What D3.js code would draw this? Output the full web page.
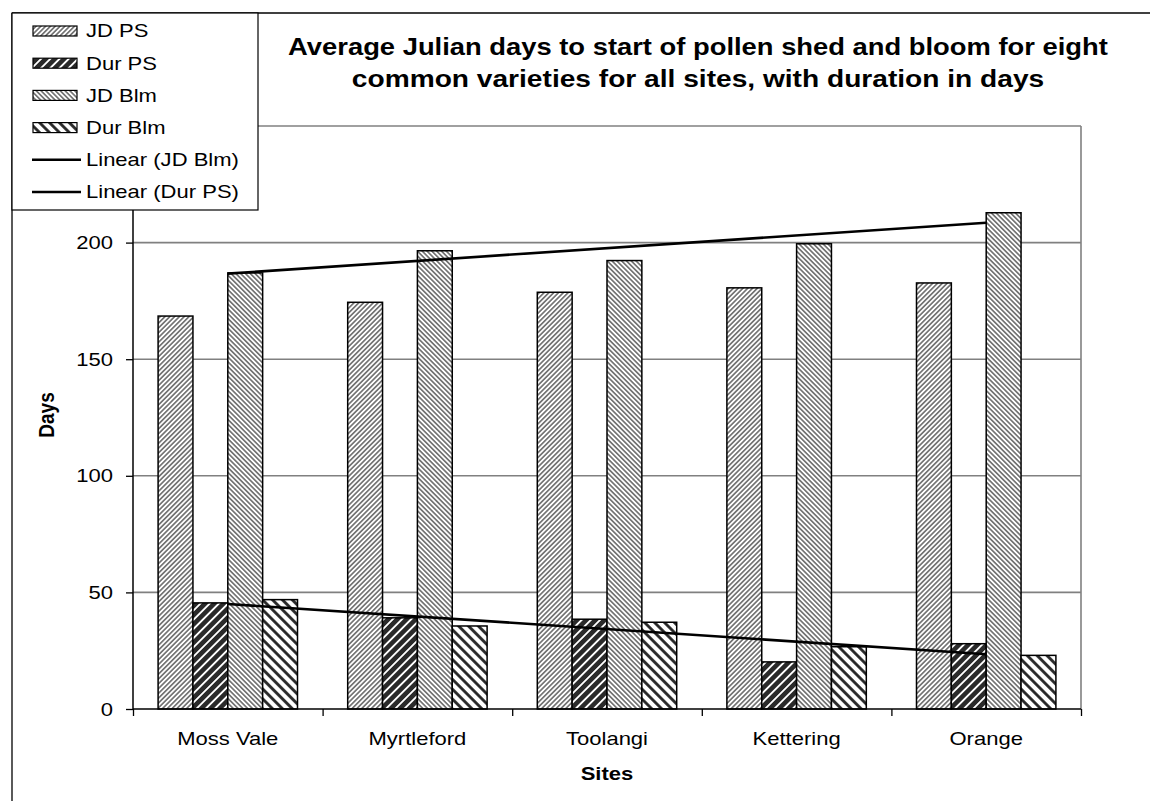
<!DOCTYPE html>
<html>
<head>
<meta charset="utf-8">
<script src="https://cdn.jsdelivr.net/npm/d3@7"></script>
<style>
  html, body { margin: 0; padding: 0; background: #fff; }
  svg { display: block; font-family: "Liberation Sans", Arial, Helvetica, sans-serif; }
</style>
</head>
<body>
<svg id="chart" width="1150" height="801"></svg>
<script>
// Sites and series
const sites = ["Moss Vale", "Myrtleford", "Toolangi", "Kettering", "Orange"];
const seriesNames = ["JD PS", "Dur PS", "JD Blm", "Dur Blm"];

// Julian day of start of pollen shed, duration of shed, Julian day of bloom, duration of bloom
const jdPS   = [168.5, 174.4, 178.7, 180.6, 182.7];
const durPS  = [45.5, 39.1, 38.5, 20.2, 28.0];
const jdBlm  = [187.0, 196.5, 192.3, 199.5, 212.8];
const durBlm = [46.9, 35.6, 37.2, 26.7, 23.0];

const yTicks = [0, 50, 100, 150, 200, 250];
const yLabelled = [0, 50, 100, 150, 200];
const trendNames = ["Linear (JD Blm)", "Linear (Dur PS)"];
const titleLines = [
  "Average Julian days to start of pollen shed and bloom for eight",
  "common varieties for all sites, with duration in days"
];

const seriesValues = [jdPS, durPS, jdBlm, durBlm];
const SX = 1.19; // horizontal text stretch

const svg = d3.select("#chart");
const W = 1150, H = 801;
const plot = { left: 133, right: 1081, top: 126, bottom: 709 };

// Hatch patterns
const defs = svg.append("defs");
function hatch(id, size, angle, stroke, width, bg) {
  const p = defs.append("pattern")
    .attr("id", id)
    .attr("patternUnits", "userSpaceOnUse")
    .attr("width", size).attr("height", size)
    .attr("patternTransform", `rotate(${angle})`);
  p.append("rect").attr("width", size).attr("height", size).attr("fill", bg);
  p.append("line")
    .attr("x1", size / 2).attr("y1", -1).attr("x2", size / 2).attr("y2", size + 1)
    .attr("stroke", stroke).attr("stroke-width", width);
}
hatch("p-jdps", 3.4, 45, "#3a3a3a", 1.2, "#fff");
hatch("p-durps", 6.5, 45, "#2a2a2a", 4.6, "#fff");
hatch("p-jdblm", 3.4, -45, "#3a3a3a", 1.2, "#fff");
hatch("p-durblm", 7, -45, "#222", 2.8, "#fff");
const fills = ["url(#p-jdps)", "url(#p-durps)", "url(#p-jdblm)", "url(#p-durblm)"];

// Scales
const x0 = d3.scaleBand().domain(sites).range([plot.left, plot.right]).padding(0);
const x1 = d3.scaleBand().domain(seriesNames).range([0, x0.bandwidth()])
  .paddingInner(0).paddingOuter(0.72);
const y = d3.scaleLinear().domain([0, 250]).range([plot.bottom, plot.top]);
const xIdx = d3.scaleLinear().domain([0, sites.length]).range([plot.left, plot.right]);

// Outer chart frame
svg.append("line").attr("x1", 12).attr("y1", 13).attr("x2", W).attr("y2", 13)
  .attr("stroke", "#000").attr("stroke-width", 1.3);
svg.append("line").attr("x1", 12).attr("y1", 13).attr("x2", 12).attr("y2", H)
  .attr("stroke", "#000").attr("stroke-width", 1.3);

// Gridlines
svg.append("g").selectAll("line").data(yTicks.filter(d => d > 0)).join("line")
  .attr("x1", plot.left).attr("x2", plot.right)
  .attr("y1", d => y(d)).attr("y2", d => y(d))
  .attr("stroke", "#808080").attr("stroke-width", 1.6);
svg.append("line").attr("x1", plot.right).attr("x2", plot.right)
  .attr("y1", plot.top).attr("y2", plot.bottom)
  .attr("stroke", "#808080").attr("stroke-width", 1.6);

// Bars
const rows = sites.map((s, i) => ({ site: s, vals: seriesNames.map((n, k) => ({ key: n, k, v: seriesValues[k][i] })) }));
svg.append("g").selectAll("g").data(rows).join("g")
  .attr("transform", d => `translate(${x0(d.site)},0)`)
  .selectAll("rect").data(d => d.vals).join("rect")
  .attr("x", d => x1(d.key))
  .attr("width", x1.bandwidth())
  .attr("y", d => y(d.v))
  .attr("height", d => y(0) - y(d.v))
  .attr("fill", d => fills[d.k])
  .attr("stroke", "#000").attr("stroke-width", 1.5);

// Least-squares trend lines over site index 1..n
function trend(vals) {
  const n = vals.length;
  const xs = vals.map((_, i) => i + 1);
  const mx = d3.mean(xs), my = d3.mean(vals);
  const b = d3.sum(xs.map((xv, i) => (xv - mx) * (vals[i] - my))) / d3.sum(xs.map(xv => (xv - mx) ** 2));
  const a = my - b * mx;
  return [{ i: 0, v: a + b * 1 }, { i: n - 1, v: a + b * n }];
}
const lineGen = d3.line().x(d => xIdx(d.i + 0.5)).y(d => y(d.v));
[jdBlm, durPS].forEach(vals => {
  svg.append("path").datum(trend(vals)).attr("d", lineGen)
    .attr("fill", "none").attr("stroke", "#000").attr("stroke-width", 2.6);
});

// Y axis (the top label sits under the legend box, so only the lower ones are written)
const yAxis = svg.append("g").attr("transform", `translate(${plot.left},0)`)
  .call(d3.axisLeft(y).tickValues(yTicks).tickSize(7).tickPadding(13)
    .tickFormat(d => yLabelled.includes(d) ? d3.format("d")(d) : ""));
yAxis.select(".domain").attr("stroke", "#000").attr("stroke-width", 1.5).attr("d", `M0,${plot.top}V${plot.bottom}`);
yAxis.selectAll(".tick line").attr("stroke", "#000").attr("stroke-width", 1.3);
yAxis.selectAll(".tick text").filter(d => !yLabelled.includes(d)).remove();
yAxis.selectAll(".tick text")
  .attr("font-size", 18.5).attr("font-family", null).attr("fill", "#000")
  .attr("x", -20 / SX).attr("dy", "0.33em")
  .attr("transform", `scale(${SX},1)`);

// X axis: category boundary ticks
const xTickAxis = svg.append("g").attr("transform", `translate(0,${plot.bottom})`)
  .call(d3.axisBottom(xIdx).tickValues(d3.range(sites.length + 1)).tickSize(7).tickFormat(""));
xTickAxis.select(".domain").attr("stroke", "#000").attr("stroke-width", 1.5)
  .attr("d", `M${plot.left},0H${plot.right}`);
xTickAxis.selectAll(".tick line").attr("stroke", "#000").attr("stroke-width", 1.3);

// X axis: category labels
const xLab = svg.append("g").attr("transform", `translate(0,${plot.bottom})`)
  .call(d3.axisBottom(x0).tickSize(0).tickPadding(0));
xLab.select(".domain").remove();
xLab.selectAll(".tick text")
  .attr("font-size", 18.5).attr("font-family", null).attr("fill", "#000")
  .attr("y", 36).attr("dy", 0)
  .attr("transform", `scale(${SX},1)`);

// Axis titles
svg.append("text")
  .attr("transform", `translate(${(plot.left + plot.right) / 2},780) scale(${SX},1)`)
  .attr("text-anchor", "middle").attr("font-weight", "bold").attr("font-size", 18.5)
  .text("Sites");
svg.append("text")
  .attr("transform", `translate(54,415) rotate(-90) scale(1,${SX})`)
  .attr("text-anchor", "middle").attr("font-weight", "bold").attr("font-size", 19)
  .text("Days");

// Chart title
svg.append("g").selectAll("text").data(titleLines).join("text")
  .attr("transform", (d, i) => `translate(698,${55 + i * 31.5}) scale(${i === 0 ? SX : SX * 1.028},1)`)
  .attr("text-anchor", "middle").attr("font-weight", "bold").attr("font-size", 23)
  .text(d => d);

// Legend
const legend = svg.append("g");
legend.append("rect").attr("x", 12).attr("y", 13).attr("width", 246).attr("height", 197)
  .attr("fill", "#fff").attr("stroke", "#000").attr("stroke-width", 1.2);
const legendItems = seriesNames.map((n, k) => ({ name: n, type: "bar", k }))
  .concat(trendNames.map(n => ({ name: n, type: "line" })));
const li = legend.selectAll("g.item").data(legendItems).join("g")
  .attr("class", "item")
  .attr("transform", (d, i) => `translate(0,${31 + i * 32.2})`);
li.filter(d => d.type === "bar").append("rect")
  .attr("x", 33).attr("y", -5).attr("width", 44).attr("height", 10)
  .attr("fill", d => fills[d.k]).attr("stroke", "#000").attr("stroke-width", 1.2);
li.filter(d => d.type === "line").append("line")
  .attr("x1", 32).attr("x2", 81).attr("y1", 0).attr("y2", 0)
  .attr("stroke", "#000").attr("stroke-width", 2.6);
li.append("text")
  .attr("transform", `translate(86,0) scale(${SX},1)`)
  .attr("dy", "0.35em").attr("font-size", 18.5)
  .text(d => d.name);
</script>
</body>
</html>
